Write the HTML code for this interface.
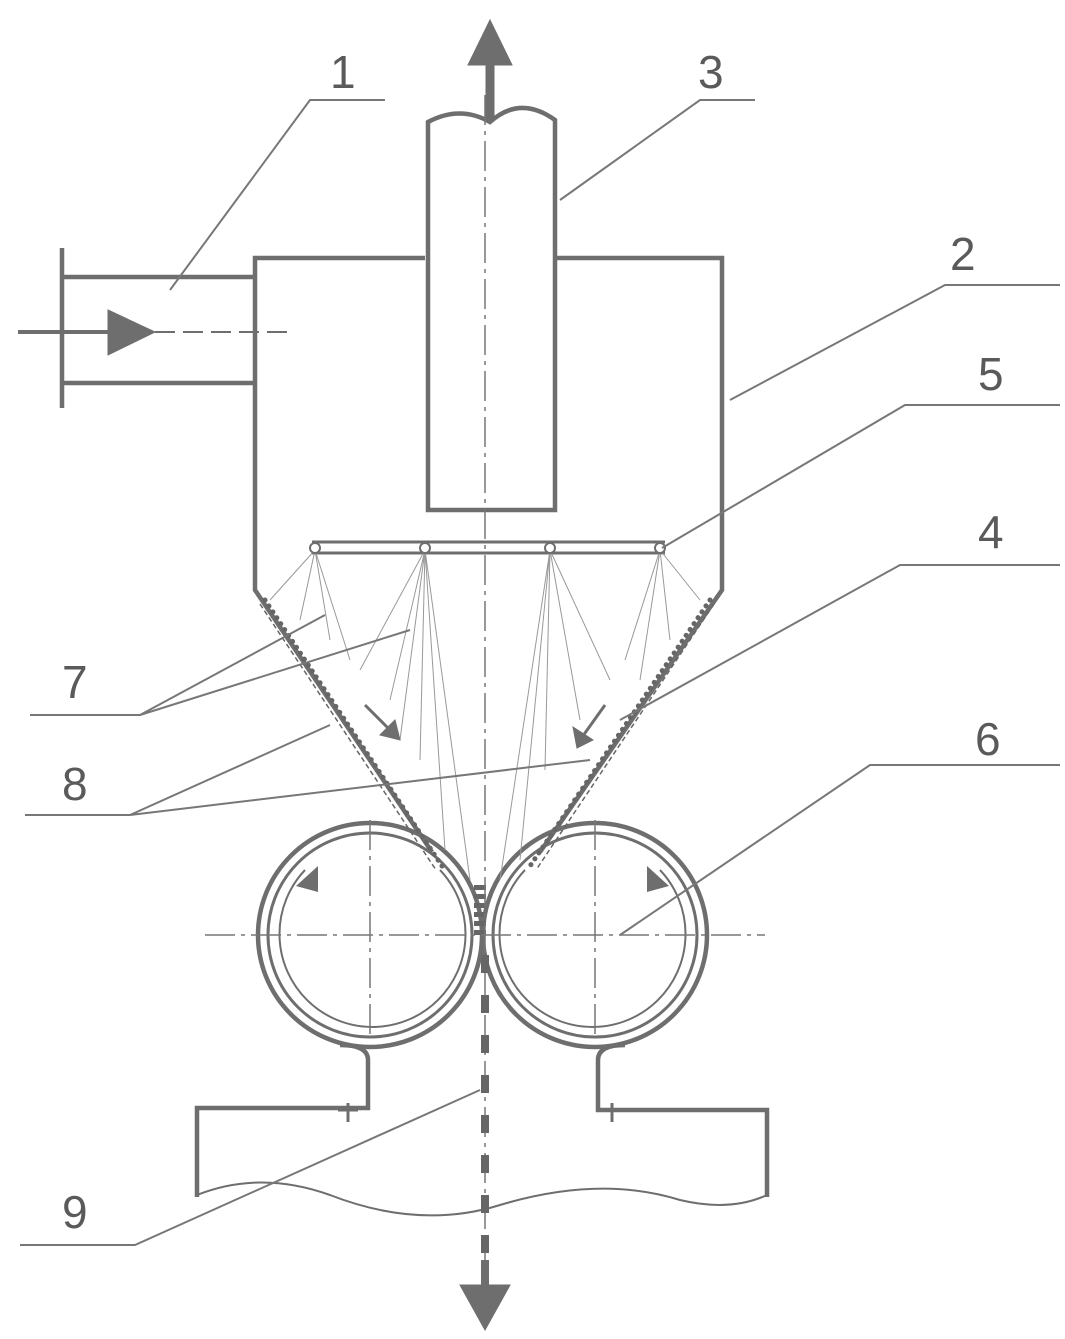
<!DOCTYPE html>
<html><head><meta charset="utf-8"><style>
html,body{margin:0;padding:0;background:#fff;}
svg{display:block}
text{font-family:"Liberation Sans",sans-serif;font-size:46px;fill:#5a5a5a}
</style></head><body>
<svg width="1065" height="1339" viewBox="0 0 1065 1339" xmlns="http://www.w3.org/2000/svg">
<g fill="none" stroke="#6e6e6e" stroke-width="4.5" stroke-linejoin="miter">
<path d="M62 248 V408"/>
<path d="M62 277 H255 M62 383 H255"/>
<path d="M425 258 H255 V590 L432 852"/>
<path d="M555 258 H722 V590 L540 852"/>
<path d="M428 510 V122 Q460 105 490 122 Q520 95 555 120 V510 Z"/>
<path d="M312 542 H665 M312 553 H665" stroke-width="3"/>
<circle cx="370" cy="935" r="112"/>
<circle cx="370" cy="935" r="102" stroke-width="3"/>
<circle cx="595" cy="935" r="112"/>
<circle cx="595" cy="935" r="102" stroke-width="3"/>
<path d="M340 1045 Q368 1045 368 1060 V1108 H197 V1197"/>
<path d="M625 1045 Q598 1045 598 1060 V1110 H767 V1197"/>
<path d="M197 1195 Q260 1170 330 1195 Q420 1230 500 1205 Q600 1175 680 1200 Q730 1212 767 1195" stroke-width="2"/>
</g>
<g fill="none" stroke="#6e6e6e" stroke-width="2">
<path d="M305 870 A93 93 0 1 0 440 870"/>
<path d="M660 870 A93 93 0 1 1 525 870"/>
</g>
<g fill="#6e6e6e">
<polygon points="296,886 318,866 318,892"/>
<polygon points="669,886 647,866 647,892"/>
</g>
<g stroke="#999" stroke-width="1">
<path d="M315 550 L270 600 M315 550 L300 620 M315 550 L330 640 M315 550 L350 660"/>
<path d="M425 550 L360 670 M425 550 L390 700 M425 550 L420 760 M425 550 L445 850 M425 550 L470 880 M425 550 L400 740"/>
<path d="M550 550 L500 880 M550 550 L520 860 M550 550 L545 770 M550 550 L580 720 M550 550 L610 680"/>
<path d="M660 550 L700 600 M660 550 L670 640 M660 550 L640 680 M660 550 L625 660"/>
</g>
<g fill="#fff" stroke="#6e6e6e" stroke-width="2">
<circle cx="315" cy="548" r="5"/><circle cx="425" cy="548" r="5"/><circle cx="550" cy="548" r="5"/><circle cx="660" cy="548" r="5"/>
</g>
<path d="M265 600 L442 866 M710 600 L530 866" stroke="#666" stroke-width="5" stroke-dasharray="0.1 7" stroke-linecap="round" fill="none" transform="translate(0,0)"/>
<path d="M260 604 L436 870 M714 604 L536 870" stroke="#666" stroke-width="1.5" stroke-dasharray="5 3" fill="none"/>
<path d="M480 885 V935" stroke="#666" stroke-width="12" stroke-dasharray="5 4"/>
<g stroke="#777" stroke-width="1.5" fill="none" stroke-dasharray="30 6 4 6">
<path d="M485 95 V1300"/>
<path d="M205 935 H765"/>
<path d="M370 820 V1040 M595 820 V1040"/>
</g>
<path d="M485 955 V1265" stroke="#666" stroke-width="8" stroke-dasharray="18 22"/>
<g fill="#6e6e6e" stroke="#6e6e6e">
<path d="M18 332 H115" stroke-width="4"/>
<polygon points="108,310 155,332 108,355"/>
<path d="M155 332 H290" stroke-width="2" stroke-dasharray="20 8"/>
<path d="M490 120 V60" stroke-width="9"/>
<polygon points="468,65 490,20 512,65"/>
<polygon points="460,1285 485,1330 510,1285"/>
<path d="M485 1260 V1290" stroke-width="8"/>
<path d="M365 705 L395 735" stroke-width="3"/><polygon points="380,735 400,740 395,720"/>
<path d="M605 705 L580 740" stroke-width="3"/><polygon points="573,727 577,748 593,740"/>
<path d="M348 1103 V1122 M338 1110 H358 M612 1103 V1122 M602 1110 H622" stroke-width="3"/>
</g>
<g stroke="#777" stroke-width="2" fill="none">
<path d="M385 100 H310 L170 290"/>
<path d="M755 100 H700 L560 200"/>
<path d="M1060 285 H945 L730 400"/>
<path d="M1060 405 H905 L662 548"/>
<path d="M1060 565 H900 L620 720"/>
<path d="M1060 765 H870 L620 935"/>
<path d="M30 715 H140 L325 615 M140 715 L410 630"/>
<path d="M25 815 H130 L330 725 M130 815 L590 760"/>
<path d="M20 1245 H135 L480 1090"/>
</g>
<text x="330" y="88">1</text>
<text x="698" y="88">3</text>
<text x="950" y="270">2</text>
<text x="978" y="390">5</text>
<text x="978" y="548">4</text>
<text x="975" y="755">6</text>
<text x="62" y="698">7</text>
<text x="62" y="800">8</text>
<text x="62" y="1228">9</text>
</svg>
</body></html>
